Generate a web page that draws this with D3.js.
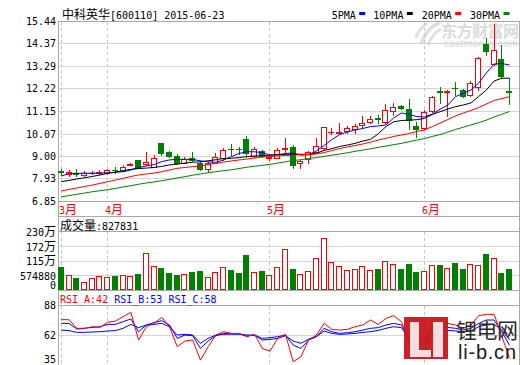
<!DOCTYPE html>
<html><head><meta charset="utf-8">
<script src="https://cdn.jsdelivr.net/npm/d3@7"></script>
<style>html,body{margin:0;padding:0;background:#fff;overflow:hidden}</style>
</head><body><svg id="c" width="520" height="365" xmlns="http://www.w3.org/2000/svg"></svg>
<script>
// ---------- data ----------
const title = "中科英华[600110] 2015-06-23";
const monthLabels = ["3月","4月","5月","6月"];
const monthStart = [0, 6, 27, 47];
const priceTicks = [15.44, 14.37, 13.29, 12.22, 11.15, 10.07, 9.00, 7.93, 6.85];
const volTicks = [0, 574880, 1149760, 1724640, 2299520];
const volTickLabels = ["0", "574880", "115万", "172万", "230万"];
const rsiTicks = [35, 62, 88];
const maNames = ["5PMA", "10PMA", "20PMA", "30PMA"];

const open  = [8.27,8.12,8.18,8.09,8.18,8.20,8.17,8.34,8.29,8.57, 8.81,8.61,8.49,9.60,9.19,9.00,8.65,8.89,8.68,8.36, 8.68,8.92,9.33,9.33,9.79,9.00,9.23,8.90,8.92,9.33, 9.44,8.65,8.84,9.20,9.36,10.14,10.11,10.19,10.27,10.48, 10.60,10.79,10.60,11.16,11.38,11.24,10.43,10.32,11.16,12.09, 12.04,12.24,12.15,11.91,12.30,14.33,13.37,13.63,12.09];
const high  = [8.37,8.33,8.38,8.28,8.28,8.33,8.36,8.49,8.57,8.66, 8.83,9.20,9.03,9.62,9.25,9.09,8.96,9.17,8.77,8.72, 9.13,9.36,9.57,9.44,9.95,9.44,9.28,9.04,9.36,9.84, 9.52,8.81,9.24,9.87,10.40,10.32,10.56,10.44,10.52,10.92, 10.92,10.95,11.46,11.51,11.43,11.72,10.63,11.19,11.86,12.30, 12.15,12.54,12.18,12.58,13.74,14.61,15.30,14.29,12.70];
const low   = [8.10,8.04,8.06,8.02,8.12,8.15,8.14,8.20,8.27,8.55, 8.42,8.58,8.47,9.04,8.93,8.61,8.64,8.76,8.33,8.28, 8.65,8.82,9.04,9.09,8.96,8.93,8.95,8.80,8.89,9.08, 8.41,8.44,8.65,9.17,9.33,10.05,10.05,10.09,10.08,10.32, 10.59,10.56,10.56,10.95,11.23,10.27,9.89,10.28,11.11,11.54, 10.91,11.91,11.80,11.86,12.15,13.80,13.34,12.70,11.48];
const close = [8.25,8.22,8.16,8.17,8.21,8.24,8.33,8.32,8.49,8.62, 8.44,8.72,8.92,9.15,9.01,8.65,8.87,8.80,8.36,8.68, 8.96,9.28,9.31,9.31,9.15,9.32,8.99,8.93,9.28,9.38, 8.57,8.76,9.17,9.49,10.37,10.16,10.13,10.32,10.43,10.56, 10.76,10.77,11.19,11.32,11.27,10.71,10.30,11.10,11.80,12.07, 12.10,12.22,11.86,12.49,13.66,14.02,14.06,12.81,12.07];
const volume = [892000,575000,456000,297000,456000,523000,496000,535000,575000,535000, 615000,1447000,932000,852000,666000,575000,615000,694000,733000,496000, 694000,892000,773000,666000,1368000,694000,733000,575000,892000,1606000, 813000,615000,733000,1249000,2042000,1090000,932000,773000,813000,932000, 773000,813000,1130000,1011000,813000,1011000,694000,733000,971000,971000, 852000,1051000,813000,1011000,971000,1407000,1249000,654000,827831];
const ma5  = [8.04,8.16,8.17,8.18,8.18,8.18,8.20,8.22,8.25,8.33, 8.45,8.52,8.59,8.73,8.81,8.84,8.84,8.83,8.77,8.72, 8.70,8.81,8.96,9.12,9.20,9.20,9.16,9.04,9.04,9.12, 9.14,9.04,9.06,9.24,9.50,9.78,10.02,10.14,10.24,10.31, 10.40,10.43,10.48,10.81,11.05,10.98,10.88,10.86,11.00,11.23, 11.43,11.83,11.99,12.15,12.48,12.96,13.39,13.41,13.34];
const ma10 = [7.77,7.83,7.90,7.96,8.02,8.09,8.17,8.23,8.30,8.36, 8.40,8.42,8.45,8.50,8.57,8.61,8.66,8.70,8.72,8.77, 8.82,8.88,8.89,8.92,8.97,9.00,9.01,9.04,9.07,9.08, 9.08,9.08,9.08,9.13,9.26,9.35,9.45,9.52,9.60,9.71, 9.79,10.05,10.40,10.63,10.69,10.71,10.73,10.79,10.98,11.11, 11.24,11.35,11.43,11.53,11.84,12.15,12.58,12.71,12.71];
const ma20 = [7.33,7.40,7.47,7.54,7.61,7.69,7.77,7.85,7.93,8.02, 8.09,8.14,8.18,8.25,8.33,8.41,8.45,8.49,8.52,8.59, 8.65,8.71,8.76,8.81,8.85,8.90,8.95,8.97,9.00,9.02, 9.04,9.06,9.07,9.09,9.16,9.26,9.35,9.43,9.50,9.57, 9.66,9.76,9.84,9.93,10.00,10.07,10.17,10.24,10.40,10.57, 10.74,10.91,11.05,11.17,11.31,11.48,11.65,11.74,11.83];
const ma30 = [7.05,7.11,7.17,7.23,7.29,7.34,7.39,7.45,7.52,7.58, 7.65,7.71,7.76,7.82,7.88,7.95,8.01,8.08,8.14,8.20, 8.25,8.30,8.34,8.40,8.46,8.51,8.55,8.60,8.66,8.72, 8.78,8.82,8.88,8.92,8.98,9.04,9.09,9.15,9.22,9.28, 9.34,9.41,9.47,9.54,9.60,9.68,9.76,9.83,9.93,10.02, 10.14,10.26,10.37,10.48,10.59,10.71,10.86,10.99,11.12];
const rsiA = [75.3,75.3,67.8,67.8,69.2,68.6,73.0,74.1,77.9,81.6, 57.7,69.2,72.1,77.3,69.2,51.9,56.8,57.7,40.3,51.9, 62.0,64.9,63.4,63.4,60.6,62.6,50.4,48.1,59.1,62.6, 38.9,43.2,57.7,62.0,72.1,66.9,66.3,66.9,69.2,70.7, 75.0,71.2,76.4,78.8,73.6,56.2,46.1,47.6,69.2,72.1, 72.1,70.7,67.8,70.7,78.8,79.9,79.9,60.6,42];
const rsiB = [72.1,72.1,67.2,67.8,68.6,69.2,71.2,71.2,73.6,75.9, 64.9,70.7,72.7,74.4,70.7,59.1,62.0,61.4,50.4,56.8, 61.4,63.4,62.9,62.9,61.1,62.0,59.1,59.7,60.6,62.0, 53.3,50.4,57.7,60.6,67.8,64.9,63.4,64.0,64.9,66.3, 67.8,68.4,70.7,72.1,70.7,59.1,54.8,57.7,66.3,69.2, 68.6,67.8,66.3,67.8,72.1,75.0,75.0,64.9,53];
const rsiC = [66.3,65.8,64.3,64.3,64.6,64.9,65.5,65.8,67.8,71.2, 68.4,70.7,71.2,72.1,69.2,62.0,62.6,62.0,54.8,59.1, 62.0,62.6,62.9,62.9,62.0,62.0,57.7,58.2,59.1,61.4, 56.8,54.8,58.5,60.6,65.5,63.4,62.6,62.9,63.4,64.3, 64.9,66.0,67.8,69.2,68.4,59.1,54.8,57.7,64.3,66.3, 66.0,65.5,64.9,65.5,69.2,70.7,71.2,66.3,58];

// ---------- drawing ----------
const RED = "#ff0000", GREEN = "#008000", BLUE = "#0000ff", BLACK = "#000000";
const maColors = [BLUE, BLACK, RED, GREEN];
const FRAME = "#a8a8a8", GRID = "#d6d6d6", DASH = "#c4c4c4";
const MONO = "'DejaVu Sans Mono', monospace", CJK = "'Noto Sans CJK SC', sans-serif";

const svg = d3.select("#c");
const N = open.length;
const xL = 58.5, xR = 519.5;
const x = d3.scalePoint().domain(d3.range(N)).range([60.8, 509.1]);
const yP = d3.scaleLinear().domain([6.85, 15.44]).range([201, 21]);
const yV = d3.scaleLinear().domain([0, 2299520]).range([289.5, 231.5]);
const yR = d3.scaleLinear().domain([35, 88]).range([366.2, 305]);
const px = i => Math.round(x(i));
const cr = v => Math.round(v) + 0.5;

function hline(g, y, x1, x2, color, dash) {
  const l = g.append("line").attr("x1", x1).attr("x2", x2).attr("y1", y).attr("y2", y)
    .attr("stroke", color).attr("stroke-width", 1).attr("shape-rendering", "crispEdges");
  if (dash) l.attr("stroke-dasharray", dash);
  return l;
}
function vline(g, xx, y1, y2, color, dash) {
  const l = g.append("line").attr("x1", xx).attr("x2", xx).attr("y1", y1).attr("y2", y2)
    .attr("stroke", color).attr("stroke-width", 1).attr("shape-rendering", "crispEdges");
  if (dash) l.attr("stroke-dasharray", dash);
  return l;
}
function mixText(g, str, xx, yy, anchor, color) {
  const t = g.append("text").attr("x", xx).attr("y", yy).attr("fill", color)
    .attr("text-anchor", anchor || "start").style("white-space", "pre");
  (str.match(/[\x00-\x7f]+|[^\x00-\x7f]+/g) || []).forEach(r => {
    const ascii = /^[\x00-\x7f]/.test(r);
    t.append("tspan").text(r).attr("font-family", ascii ? MONO : CJK).attr("font-size", ascii ? 10 : 12);
  });
  return t;
}

const gGrid = svg.append("g");
// price gridlines
priceTicks.slice(1, -1).forEach(v => hline(gGrid, cr(yP(v)), xL, xR, GRID));
// volume gridlines
volTicks.slice(1, -1).forEach(v => hline(gGrid, cr(yV(v)), xL, xR, GRID));
// rsi gridlines
rsiTicks.slice(1).forEach(v => hline(gGrid, cr(yR(v)), xL, xR, GRID));
// month dashed lines
monthStart.forEach(i => {
  const xx = px(i) + 0.5;
  vline(gGrid, xx, 22, 201, DASH, "3,3");
  vline(gGrid, xx, 232, 289, DASH, "3,3");
  vline(gGrid, xx, 306, 365, DASH, "3,3");
});

// eastmoney watermark
const wm = svg.append("g").attr("opacity", 0.55);
wm.append("path").attr("d", "M421,44 C424,34 430,27 440,22").attr("stroke", "#c8c8c8").attr("stroke-width", 4).attr("fill", "none");
wm.append("path").attr("d", "M428,45 C431,37 435,32 441,29").attr("stroke", "#c8c8c8").attr("stroke-width", 3).attr("fill", "none");
wm.append("path").attr("d", "M416,38 C418,31 422,26 428,23").attr("stroke", "#c8c8c8").attr("stroke-width", 3).attr("fill", "none");
wm.append("text").attr("x", 441).attr("y", 37).attr("font-family", CJK).attr("font-weight", "bold")
  .attr("font-size", 16).attr("fill", "#bdbdbd").text("东方财富网").attr("textLength", 78);
wm.append("text").attr("x", 444).attr("y", 47).attr("font-family", "'Liberation Sans', sans-serif").attr("font-weight", "bold")
  .attr("font-size", 10).attr("fill", "#c8c8c8").text("eastmoney.com").attr("textLength", 74);

// frame
const gF = svg.append("g");
[21.5, 201.5, 216.5, 231.5, 290.5, 305.5].forEach(y => hline(gF, y, xL, xR, FRAME));
vline(gF, xL, 21, 365, FRAME);
vline(gF, xR, 21, 365, FRAME);

// candles
const gC = svg.append("g");
for (let i = 0; i < N; i++) {
  const o = open[i], h = high[i], l = low[i], c = close[i];
  const n = px(i), cx = n + 0.5;
  const up = c >= o;
  const col = up ? RED : GREEN;
  const yTop = Math.round(yP(Math.max(o, c))), yBot = Math.round(yP(Math.min(o, c)));
  const yH = Math.round(yP(h)), yLo = Math.round(yP(l));
  if (yBot - yTop < 1) {
    vline(gC, cx, yH, yLo + 1, col);
    hline(gC, yTop + 0.5, n - 3, n + 3, col);
  } else if (up) {
    vline(gC, cx, yH, yTop, col);
    vline(gC, cx, yBot, yLo + 1, col);
    gC.append("rect").attr("x", n - 2.5).attr("y", yTop + 0.5).attr("width", 5).attr("height", yBot - yTop)
      .attr("fill", "#fff").attr("stroke", col).attr("shape-rendering", "crispEdges");
  } else {
    vline(gC, cx, yH, yLo + 1, col);
    gC.append("rect").attr("x", n - 3).attr("y", yTop).attr("width", 6).attr("height", yBot - yTop + 1)
      .attr("fill", col).attr("shape-rendering", "crispEdges");
  }
}

// moving averages
const gM = svg.append("g");
[ma5, ma10, ma20, ma30].forEach((arr, k) => {
  gM.append("path").datum(arr)
    .attr("d", d3.line().x((d, i) => x(i) + 0.5).y(d => yP(d)))
    .attr("fill", "none").attr("stroke", maColors[k]).attr("stroke-width", 1);
});

// volume bars
const gV = svg.append("g");
volume.forEach((v, i) => {
  const n = px(i), up = close[i] >= open[i];
  const yt = Math.round(yV(v));
  if (up) {
    gV.append("rect").attr("x", n - 2.5).attr("y", yt + 0.5).attr("width", 5).attr("height", 289 - yt)
      .attr("fill", "#fff").attr("stroke", RED).attr("shape-rendering", "crispEdges");
  } else {
    gV.append("rect").attr("x", n - 3).attr("y", yt).attr("width", 6).attr("height", 290 - yt)
      .attr("fill", GREEN).attr("shape-rendering", "crispEdges");
  }
});

// RSI lines
const gR = svg.append("g");
[[rsiC, BLUE], [rsiB, BLUE], [rsiA, RED]].forEach(([arr, col]) => {
  gR.append("path").datum(arr)
    .attr("d", d3.line().x((d, i) => x(i) + 0.5).y(d => yR(d)))
    .attr("fill", "none").attr("stroke", col).attr("stroke-width", 1);
});

// texts
const gT = svg.append("g");
mixText(gT, title, 62, 19, "start", BLACK);
const legX = [331.7, 373.3, 421.7, 470];
maNames.forEach((nm, k) => {
  gT.append("text").attr("x", legX[k]).attr("y", 18.5).attr("font-family", MONO).attr("font-size", 10)
    .attr("fill", BLACK).text(nm);
  gT.append("rect").attr("x", legX[k] + nm.length * 6 + 3.5).attr("y", 12).attr("width", 6).attr("height", 3)
    .attr("fill", maColors[k]);
});
priceTicks.forEach(v => {
  gT.append("text").attr("x", 56).attr("y", yP(v) + 4).attr("text-anchor", "end")
    .attr("font-family", MONO).attr("font-size", 10).attr("fill", BLACK).text(v.toFixed(2));
});
volTicks.forEach((v, k) => {
  const yy = v === 0 ? yV(v) - 0.5 : yV(v) + 4.5;
  mixText(gT, volTickLabels[k], 56, yy, "end", BLACK);
});
rsiTicks.forEach(v => {
  const yy = Math.min(yR(v) + 4, 363);
  gT.append("text").attr("x", 56).attr("y", yy).attr("text-anchor", "end")
    .attr("font-family", MONO).attr("font-size", 10).attr("fill", BLACK).text(String(v));
});
monthStart.forEach((i, k) => mixText(gT, monthLabels[k], px(i) - 2, 213.5, "start", RED));
mixText(gT, "成交量:" + volume[N - 1], 60, 229.5, "start", BLACK);
const rt = gT.append("text").attr("x", 60).attr("y", 303).attr("font-family", MONO).attr("font-size", 10).style("white-space", "pre");
rt.append("tspan").attr("fill", RED).text("RSI_A:" + Math.round(rsiA[N - 1]));
rt.append("tspan").attr("fill", BLUE).text(" RSI_B:" + Math.round(rsiB[N - 1]) + " RSI_C:" + Math.round(rsiC[N - 1]));

// li-b.cn logo watermark
const lg = svg.append("g");
lg.append("rect").attr("x", 404).attr("y", 317).attr("width", 44).attr("height", 42).attr("fill", "#c9151e").attr("opacity", 0.95);
lg.append("path").attr("d", "M410,322 h9 v28 h12 v7 h-21 z").attr("fill", "#fff").attr("opacity", 0.85);
lg.append("rect").attr("x", 433).attr("y", 322).attr("width", 10).attr("height", 35).attr("fill", "#fff").attr("opacity", 0.85);
lg.append("text").attr("x", 456).attr("y", 338).attr("font-family", CJK).attr("font-size", 21)
  .attr("fill", "#2a2a2a").attr("textLength", 62).text("锂电网");
lg.append("text").attr("x", 458).attr("y", 359).attr("font-family", "'Liberation Sans', sans-serif").attr("font-size", 20)
  .attr("fill", "#1a1a1a").attr("textLength", 58).text("li-b.cn");
</script>
</body></html>
